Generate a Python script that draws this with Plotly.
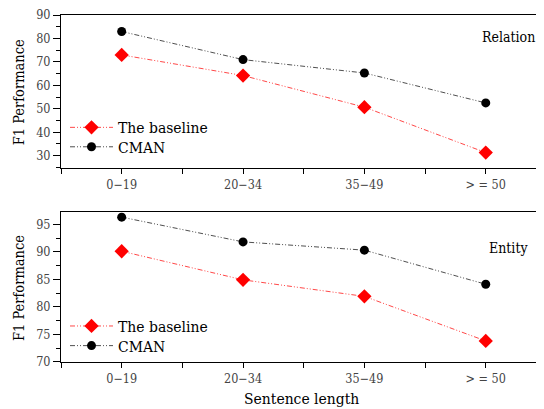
import plotly.graph_objects as go

categories = ["0−19", "20−34", "35−49", "> = 50"]
relation_baseline = [73.0, 64.2, 50.7, 31.3]
relation_cman = [83.0, 71.0, 65.3, 52.5]
entity_baseline = [90.1, 84.9, 81.9, 73.8]
entity_cman = [96.3, 91.8, 90.3, 84.1]
xidx = list(range(len(categories)))

FONT = "DejaVu Serif Condensed, DejaVu Serif, serif"
RED = "#ff0000"
BLACK = "#000000"
DASH = "5px,2px,1px,2px,1px,2px"

fig = go.Figure()

def add_pair(base, cman, xa, ya, leg_a, leg_b):
    fig.add_trace(go.Scatter(x=xidx, y=base, mode="lines+markers", name="The baseline",
                             line=dict(color="rgba(255,40,40,0.85)", width=1, dash=DASH),
                             marker=dict(symbol="diamond", size=11, color=RED),
                             xaxis=xa, yaxis=ya, legend=leg_a))
    fig.add_trace(go.Scatter(x=xidx, y=cman, mode="lines+markers", name="CMAN",
                             line=dict(color="rgba(60,60,60,0.9)", width=1, dash=DASH),
                             marker=dict(symbol="circle", size=9, color=BLACK),
                             xaxis=xa, yaxis=ya, legend=leg_b))

add_pair(relation_baseline, relation_cman, "x", "y", "legend", "legend2")
add_pair(entity_baseline, entity_cman, "x2", "y2", "legend3", "legend4")

xcommon = dict(range=[-0.5, 3.48], tickmode="array", tickvals=xidx, ticktext=categories,
               showline=True, linecolor="black", linewidth=1, mirror=True, automargin=False,
               ticks="outside", ticklen=5, tickcolor="black", showgrid=False, zeroline=False,
               tickfont=dict(family=FONT, size=12.5, color="#444444"),
               minor=dict(tickvals=[-0.5, 0.5, 1.5, 2.5], ticks="outside", ticklen=5,
                          tickcolor="black", showgrid=False))

ycommon = dict(showline=True, linecolor="black", linewidth=1, mirror=False, automargin=False,
               ticks="outside", ticklen=7, tickcolor="black", showgrid=False, zeroline=False,
               ticklabeloverflow="allow",
               tickfont=dict(family=FONT, size=12.5, color="#444444"))

ytfont = dict(family=FONT, size=14.5, color="black")
xtfont = dict(family=FONT, size=15.5, color="black")

def leg(y):
    return dict(x=0.0083, y=y, xanchor="left", yanchor="middle", bgcolor="rgba(0,0,0,0)",
                font=dict(family=FONT, size=15.5, color="black"), tracegroupgap=0,
                itemwidth=43)

fig.update_layout(
    width=536, height=401,
    margin=dict(l=53, r=0, t=7, b=47),
    font=dict(family=FONT),
    plot_bgcolor="white", paper_bgcolor="white",
    showlegend=True,
    xaxis=dict(**xcommon, domain=[0, 1], anchor="y"),
    xaxis2=dict(**xcommon, domain=[0, 1], anchor="y2"),
    yaxis=dict(**ycommon, domain=[0.56, 1], anchor="x", range=[24.86, 90.05],
               tickvals=[30, 40, 50, 60, 70, 80, 90]),
    yaxis2=dict(**ycommon, domain=[0, 0.433], anchor="x2", range=[69.97, 97.28],
                tickvals=[70, 75, 80, 85, 90, 95]),
    legend=leg(0.675),
    legend2=leg(0.619),
    legend3=leg(0.1026),
    legend4=leg(0.046),
    annotations=[
        dict(text="Relation", x=0.9855, y=0.9366, xref="paper", yref="paper", xanchor="right",
             yanchor="middle", showarrow=False, font=dict(family=FONT, size=14, color="black")),
        dict(text="Entity", x=0.971, y=0.3285, xref="paper", yref="paper", xanchor="right",
             yanchor="middle", showarrow=False, font=dict(family=FONT, size=14, color="black")),
        dict(text="F1 Performance", x=-0.087, y=0.777, xref="paper", yref="paper",
             textangle=-90, showarrow=False, xanchor="center", yanchor="middle", font=ytfont),
        dict(text="F1 Performance", x=-0.087, y=0.213, xref="paper", yref="paper",
             textangle=-90, showarrow=False, xanchor="center", yanchor="middle", font=ytfont),
        dict(text="Sentence length", x=0.497, y=-0.1066, xref="paper", yref="paper",
             showarrow=False, xanchor="center", yanchor="middle", font=xtfont),
    ],
)

fig.update_yaxes(minor=dict(ticks="outside", ticklen=4, tickcolor="black", showgrid=False))
fig.layout.yaxis.minor.tickvals = [25, 35, 45, 55, 65, 75, 85]
fig.layout.yaxis2.minor.tickvals = [72.5, 77.5, 82.5, 87.5, 92.5, 97.5]

fig.write_html("out.html")
